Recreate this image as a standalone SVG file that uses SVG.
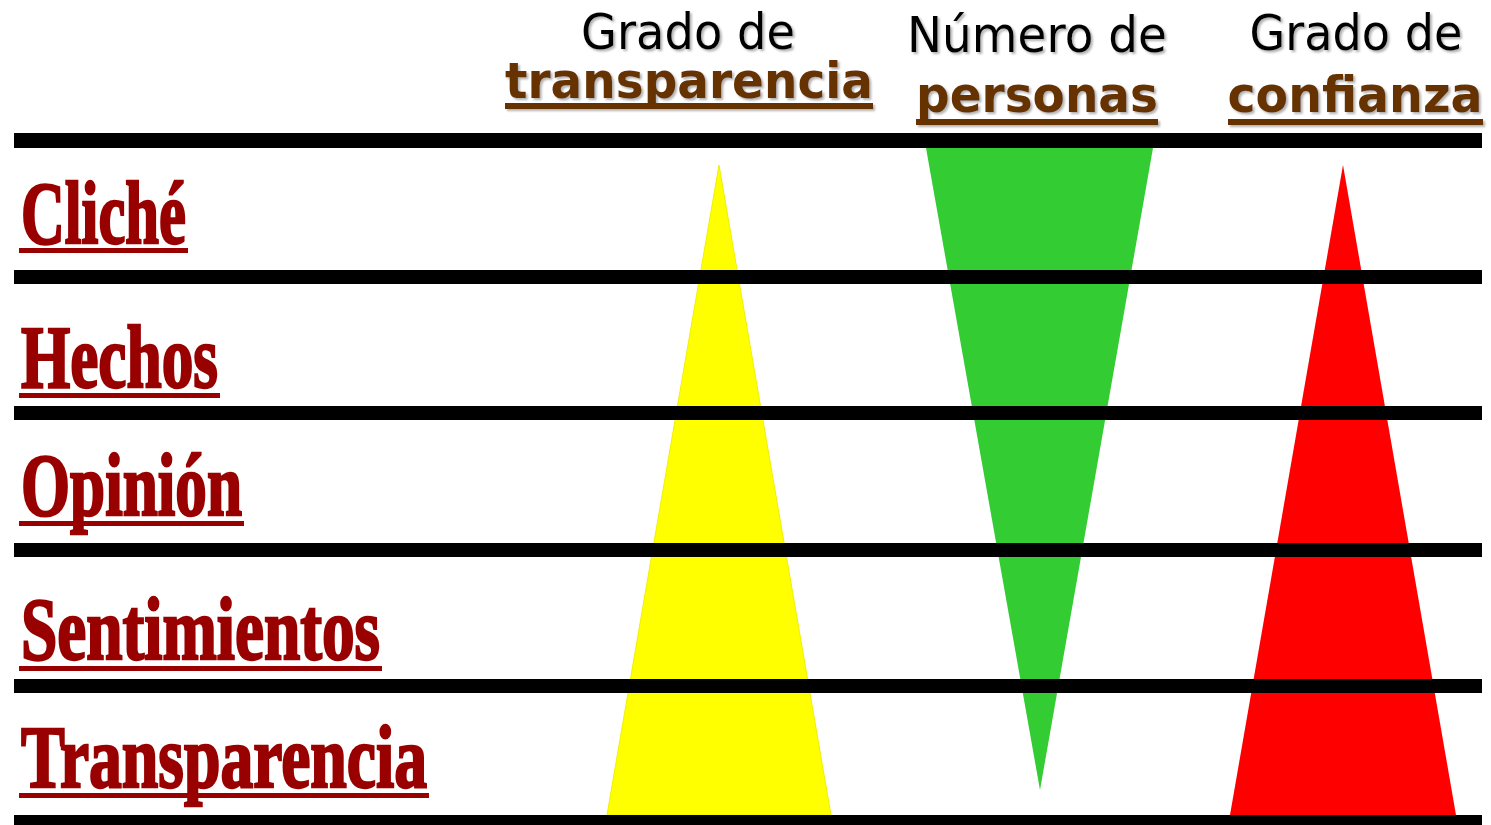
<svg xmlns="http://www.w3.org/2000/svg" width="1491" height="825" viewBox="0 0 1491 825">
<defs>
<filter id="sh" x="-5%" y="-20%" width="110%" height="150%">
<feDropShadow dx="2" dy="2" stdDeviation="1" flood-color="#808080" flood-opacity="0.6"/>
</filter>
</defs>
<style>
.hd{font-family:"DejaVu Sans","Liberation Sans",sans-serif;font-size:50px;fill:#000;text-anchor:middle}
.hb{font-family:"DejaVu Sans","Liberation Sans",sans-serif;font-size:49px;font-weight:bold;fill:#663300;text-anchor:middle}
.hu{fill:#663300}
.rl{font-family:"Liberation Serif",serif;font-size:88px;font-weight:bold;fill:#990000;stroke:#990000;stroke-width:2.5}
.ru{fill:#990000}
.bar{fill:#000}
</style>
<rect width="1491" height="825" fill="#fff"/>
<g id="triangles">
<polygon id="tri-transparencia" points="719,165 607,815 831,815" fill="#ffff00" stroke="#f0f000" stroke-width="1"/>
<polygon id="tri-personas" points="926,148 1153,148 1040,790" fill="#33cc33"/>
<polygon id="tri-confianza" points="1343,165 1230,815 1456,815" fill="#ff0000"/>
</g>
<g id="connectors">
<rect class="bar" x="14" y="133" width="1468" height="15"/>
<rect class="bar" x="14" y="270" width="1468" height="14"/>
<rect class="bar" x="14" y="406" width="1468" height="14"/>
<rect class="bar" x="14" y="543" width="1468" height="14"/>
<rect class="bar" x="14" y="679" width="1468" height="14"/>
<rect class="bar" x="14" y="815" width="1468" height="10"/>
</g>
<g id="header-transparencia" filter="url(#sh)">
<text class="hd" x="688" y="49" textLength="214" lengthAdjust="spacingAndGlyphs">Grado de</text>
<text class="hb" x="689" y="98" textLength="368" lengthAdjust="spacingAndGlyphs">transparencia</text>
<rect class="hu" x="505" y="103" width="368" height="6"/>
</g>
<g id="header-personas" filter="url(#sh)">
<text class="hd" x="1037" y="52" textLength="260" lengthAdjust="spacingAndGlyphs">Número de</text>
<text class="hb" x="1037" y="112" textLength="242" lengthAdjust="spacingAndGlyphs">personas</text>
<rect class="hu" x="916" y="119" width="242" height="6"/>
</g>
<g id="header-confianza" filter="url(#sh)">
<text class="hd" x="1356" y="50" textLength="213" lengthAdjust="spacingAndGlyphs">Grado de</text>
<text class="hb" x="1355" y="112" textLength="255" lengthAdjust="spacingAndGlyphs">confianza</text>
<rect class="hu" x="1228" y="119" width="255" height="6"/>
</g>
<g id="row-cliche">
<text class="rl" x="21" y="243" textLength="165" lengthAdjust="spacingAndGlyphs">Cliché</text>
<rect class="ru" x="19" y="248" width="169" height="5"/>
</g>
<g id="row-hechos">
<text class="rl" x="21" y="387" textLength="197" lengthAdjust="spacingAndGlyphs">Hechos</text>
<rect class="ru" x="19" y="393" width="201" height="5"/>
</g>
<g id="row-opinion">
<text class="rl" x="21" y="515" textLength="221" lengthAdjust="spacingAndGlyphs">Opinión</text>
<rect class="ru" x="19" y="521" width="225" height="5"/>
</g>
<g id="row-sentimientos">
<text class="rl" x="21" y="659" textLength="359" lengthAdjust="spacingAndGlyphs">Sentimientos</text>
<rect class="ru" x="19" y="666" width="363" height="5"/>
</g>
<g id="row-transparencia">
<text class="rl" x="21" y="787" textLength="406" lengthAdjust="spacingAndGlyphs">Transparencia</text>
<rect class="ru" x="19" y="793" width="410" height="5"/>
</g>
</svg>
